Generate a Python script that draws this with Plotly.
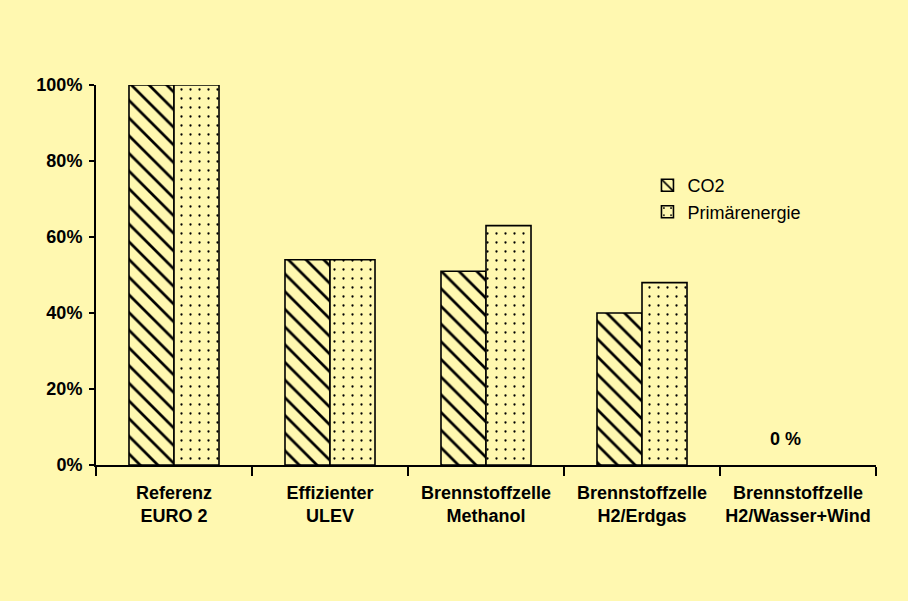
import plotly.graph_objects as go

# Data
categories = [
    "Referenz<br>EURO 2",
    "Effizienter<br>ULEV",
    "Brennstoffzelle<br>Methanol",
    "Brennstoffzelle<br>H2/Erdgas",
    "Brennstoffzelle<br>H2/Wasser+Wind",
]
co2 = [1.00, 0.54, 0.51, 0.40, 0.00]
primaerenergie = [1.00, 0.54, 0.63, 0.48, 0.00]
y_ticks = [0, 0.2, 0.4, 0.6, 0.8, 1.0]

BG = "#FFF8B0"
FONT = "Liberation Sans, Arial, sans-serif"


def outline_widths(values):
    # zero-height bars get no outline so nothing is drawn on the axis
    return [1.6 if v > 0 else 0 for v in values]


fig = go.Figure()
fig.add_trace(go.Bar(
    x=categories, y=co2, name="CO2",
    marker=dict(
        color=BG,
        line=dict(color="black", width=outline_widths(co2)),
        pattern=dict(shape="\\", size=12.5, solidity=0.22,
                     fgcolor="black", bgcolor=BG, fillmode="replace"),
    ),
))
fig.add_trace(go.Bar(
    x=categories, y=primaerenergie, name="Primärenergie",
    marker=dict(
        color=BG,
        line=dict(color="black", width=outline_widths(primaerenergie)),
        pattern=dict(shape=".", size=9, solidity=0.05,
                     fgcolor="black", bgcolor=BG, fillmode="replace"),
    ),
))

# Value label for the last group, whose bars are zero-height
last = len(categories) - 1
fig.add_annotation(
    x=categories[last], y=co2[last],
    text=f"{co2[last] * 100:.0f} %",
    showarrow=False, yanchor="bottom", yshift=14, xshift=-13,
    font=dict(family=FONT, size=18, color="black", weight="bold"),
)

fig.update_layout(
    width=908, height=601,
    paper_bgcolor=BG, plot_bgcolor=BG,
    margin=dict(l=96, r=32, t=85, b=136),
    barmode="group", bargap=0.423, bargroupgap=0,
    font=dict(family=FONT, size=18, color="black"),
    legend=dict(
        x=0.707, y=0.784, xanchor="left", yanchor="top",
        bgcolor="rgba(0,0,0,0)", font=dict(size=18),
        itemwidth=30, tracegroupgap=0,
    ),
)
fig.update_xaxes(
    type="category", range=[-0.5, 4.5],
    showline=True, linecolor="black", linewidth=2,
    ticks="outside", tickson="boundaries", ticklen=9, tickwidth=2, tickcolor="black",
    tickfont=dict(family=FONT, size=18, weight="bold"),
    showgrid=False, zeroline=False, ticklabelstandoff=10,
)
fig.update_yaxes(
    range=[0, 1.0], tickvals=y_ticks, tickformat=".0%",
    showline=True, linecolor="black", linewidth=2,
    ticks="outside", ticklen=5, tickwidth=2, tickcolor="black",
    tickfont=dict(family=FONT, size=18, weight="bold"),
    showgrid=False, zeroline=False, ticklabelstandoff=3,
)

fig.write_html("out.html")
